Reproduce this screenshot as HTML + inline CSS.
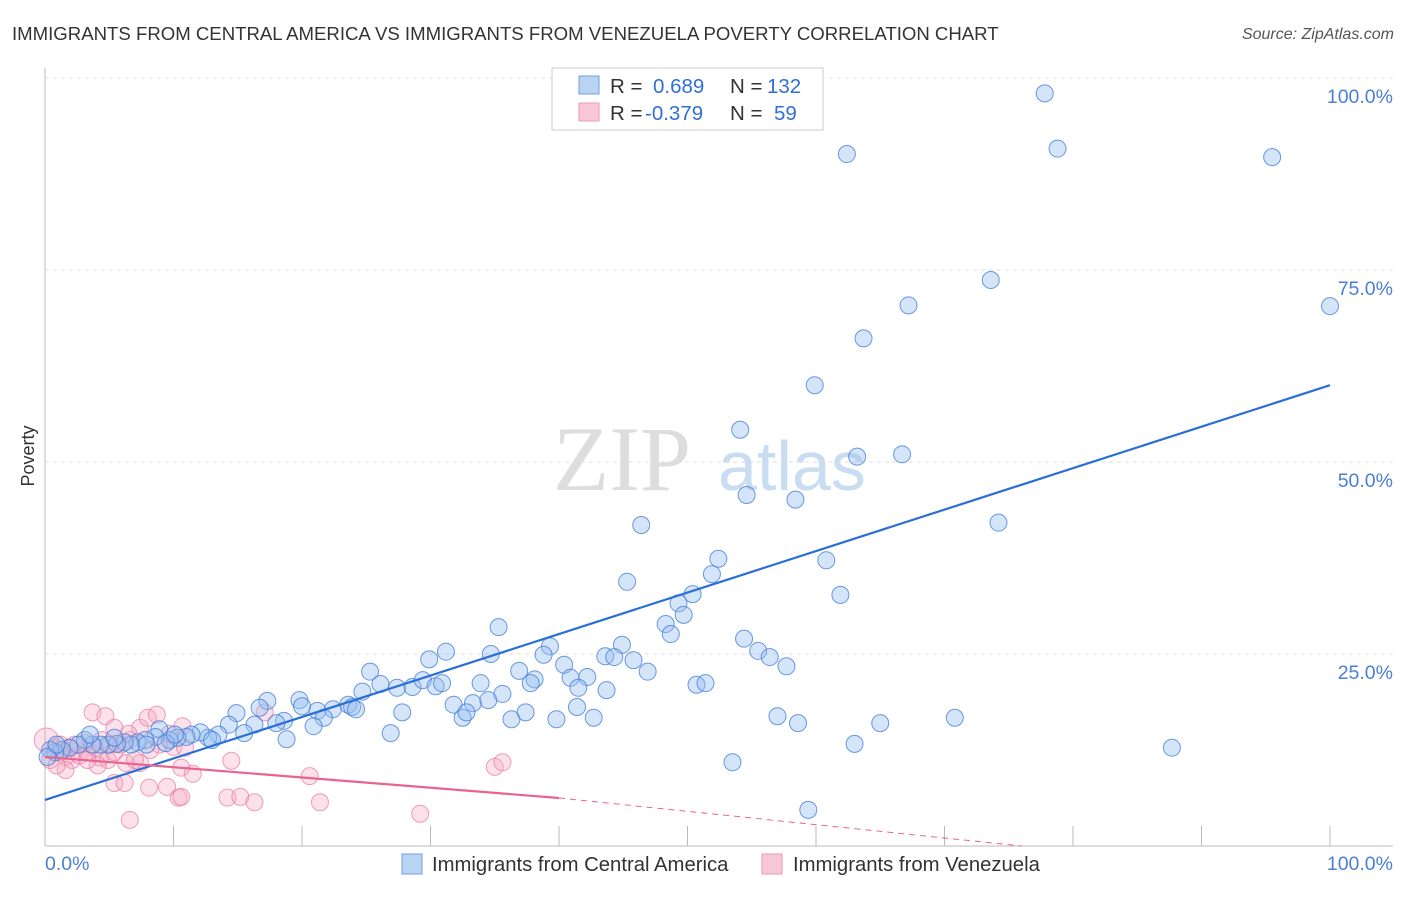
<!DOCTYPE html>
<html><head><meta charset="utf-8"><style>
body{margin:0;background:#fff;font-family:"Liberation Sans",sans-serif;}
</style></head><body>
<svg id="chart" width="1406" height="892" xmlns="http://www.w3.org/2000/svg">
<text x="12" y="40" font-size="18.6" fill="#333">IMMIGRANTS FROM CENTRAL AMERICA VS IMMIGRANTS FROM VENEZUELA POVERTY CORRELATION CHART</text>
<text x="1394" y="39" font-size="16" fill="#555" font-style="italic" text-anchor="end">Source: ZipAtlas.com</text>
<text x="34" y="456" font-size="18" fill="#333" transform="rotate(-90 34 456)" text-anchor="middle">Poverty</text>
<g>
<text x="553" y="490" font-family="Liberation Serif,serif" font-size="92" fill="#ddd">ZIP</text>
<text x="718" y="490" font-size="70" fill="#c8dcf2">atlas</text>
</g>
<g id="grid"></g><g id="pts"></g><g id="lines"></g>
<g>
<rect x="552" y="68" width="271" height="62" fill="#fff" stroke="#ccc"/>
<rect x="579" y="76" width="20" height="18" fill="#b9d3f3" stroke="#6f9fe0"/>
<rect x="579" y="103" width="20" height="18" fill="#f9c8d6" stroke="#eb9ab2"/>
<text x="610" y="93" font-size="20.5" fill="#333">R = <tspan fill="#2f6fd8" x="653">0.689</tspan><tspan x="730" fill="#333">N =</tspan><tspan x="767" fill="#2f6fd8">132</tspan></text>
<text x="610" y="120" font-size="20.5" fill="#333">R = <tspan fill="#2f6fd8" x="645">-0.379</tspan><tspan x="730" fill="#333">N =</tspan><tspan x="774" fill="#2f6fd8">59</tspan></text>
</g>
<g>
<rect x="402" y="854" width="20" height="20" fill="#b9d3f3" stroke="#6f9fe0"/>
<text x="432" y="871" font-size="20.3" fill="#333">Immigrants from Central America</text>
<rect x="762" y="854" width="20" height="20" fill="#f9c8d6" stroke="#eb9ab2"/>
<text x="793" y="871" font-size="20.3" fill="#333">Immigrants from Venezuela</text>
</g>
</svg>
<script>
const yTicks=[25,50,75,100];
const yTickLabels=["25.0%","50.0%","75.0%","100.0%"];
const xTicks=[0,10,20,30,40,50,60,70,80,90,100];
const blueFit=[6.0,60.0];
const pinkFit=[11.6,6.25];
const pinkSolidEnd=40;
const pinkDashEnd=76;
const bluePx=[[1045,93],[847,154],[1058,149],[1272,157],[991,280],[1330,306],[909,305],[864,338],[815,385],[740,430],[857,457],[902,454],[747,495],[796,500],[641,525],[999,523],[718,559],[712,574],[627,582],[826,560],[840,595],[693,594],[678,603],[684,615],[666,624],[671,634],[744,639],[758,651],[770,657],[786,666],[498,627],[446,652],[429,659],[550,646],[622,645],[605,656],[614,657],[634,660],[648,672],[543,655],[564,665],[491,654],[370,672],[381,684],[519,671],[534,679],[570,678],[587,677],[578,688],[531,683],[480,683],[606,690],[697,685],[705,683],[397,688],[413,687],[423,680],[435,686],[442,683],[363,692],[348,705],[352,707],[333,709],[356,709],[317,711],[267,701],[299,700],[259,708],[453,705],[473,703],[488,700],[503,694],[462,718],[466,712],[402,712],[391,733],[512,719],[526,712],[556,719],[577,707],[594,718],[778,716],[798,723],[880,723],[955,718],[1172,748],[732,762],[855,744],[808,810],[287,739],[302,706],[324,718],[313,726],[284,721],[276,723],[237,713],[229,725],[254,725],[244,733],[218,735],[208,738],[200,732],[192,735],[186,737],[177,738],[170,740],[160,729],[155,737],[145,740],[137,742],[131,745],[125,742],[117,744],[108,745],[100,745],[93,745],[85,740],[78,745],[70,748],[62,750],[55,752],[50,750],[48,757],[90,735],[115,738],[166,743],[147,745],[175,735],[212,740],[56,745]];
const pinkPx=[[46,740],[55,748],[60,752],[65,757],[72,760],[80,755],[88,752],[95,748],[100,758],[108,760],[115,752],[121,745],[130,740],[140,728],[148,718],[157,715],[92,712],[105,716],[114,728],[128,734],[160,745],[173,747],[185,748],[140,763],[126,763],[181,768],[193,774],[231,761],[115,783],[125,783],[149,788],[167,787],[178,798],[181,797],[227,798],[240,797],[254,802],[320,802],[310,776],[130,820],[420,814],[495,767],[502,762],[60,745],[75,745],[85,743],[66,770],[98,765],[110,745],[150,750],[170,734],[182,726],[265,712],[135,760],[50,760],[57,765],[70,748],[88,760],[102,740]];
const blueX=bluePx.map(p=>+((p[0]-45)/12.85).toFixed(1));
const blueY=bluePx.map(p=>+((846-p[1])/7.68).toFixed(1));
const pinkX=pinkPx.map(p=>+((p[0]-45)/12.85).toFixed(1));
const pinkY=pinkPx.map(p=>+((846-p[1])/7.68).toFixed(1));
const NS="http://www.w3.org/2000/svg";
const sx=v=>45+v*12.85, sy=v=>846-v*7.68;
function mk(tag,attrs,parent){const e=document.createElementNS(NS,tag);for(const k in attrs)e.setAttribute(k,attrs[k]);document.getElementById(parent).appendChild(e);return e;}
const ax=mk('line',{x1:45,y1:68,x2:45,y2:846,stroke:'#bbb'},'grid');


const bx=mk('line',{x1:45,y1:846,x2:1393,y2:846,stroke:'#bbb'},'grid');


yTicks.forEach((t,i)=>{
 const g=mk('line',{x1:45,y1:sy(t),x2:1393,y2:sy(t),stroke:'#ddd','stroke-dasharray':'4,4'},'grid');
 
 
 const l=mk('text',{x:1393,y:sy(t)+25,'font-size':19.5,fill:'#4a7fd4','text-anchor':'end'},'grid');
 l.textContent=yTickLabels[i];
 
 
});
xTicks.forEach(t=>{
 const k=mk('line',{x1:sx(t),y1:826,x2:sx(t),y2:846,stroke:'#bbb'},'grid');
 
 
});
const x0=mk('text',{x:45,y:870,'font-size':19.5,fill:'#4a7fd4'},'grid');x0.textContent='0.0%';


const x1=mk('text',{x:1393,y:870,'font-size':19.5,fill:'#4a7fd4','text-anchor':'end'},'grid');x1.textContent='100.0%';


pinkX.forEach((x,i)=>{
 const c=mk('circle',{cx:sx(x),cy:sy(pinkY[i]),r:i==0?12:8.5,fill:'rgba(246,170,195,0.35)',stroke:'rgba(232,120,160,0.7)','stroke-width':1},'pts');
 
 
});
blueX.forEach((x,i)=>{
 const c=mk('circle',{cx:sx(x),cy:sy(blueY[i]),r:8.5,fill:'rgba(150,190,240,0.4)',stroke:'rgba(60,120,215,0.75)','stroke-width':1},'pts');
 
 
});
const bl=mk('line',{x1:sx(0),y1:sy(blueFit[0]),x2:sx(100),y2:sy(blueFit[1]),stroke:'#2a6fd6','stroke-width':2.2},'lines');


const pl=mk('line',{x1:sx(0),y1:sy(pinkFit[0]),x2:sx(pinkSolidEnd),y2:sy(pinkFit[1]),stroke:'#e8648f','stroke-width':2.2},'lines');


const pd=mk('line',{x1:sx(pinkSolidEnd),y1:sy(pinkFit[1]),x2:sx(pinkDashEnd),y2:sy(0),stroke:'#e8648f','stroke-width':1,'stroke-dasharray':'6,5'},'lines');


</script>
</body></html>
